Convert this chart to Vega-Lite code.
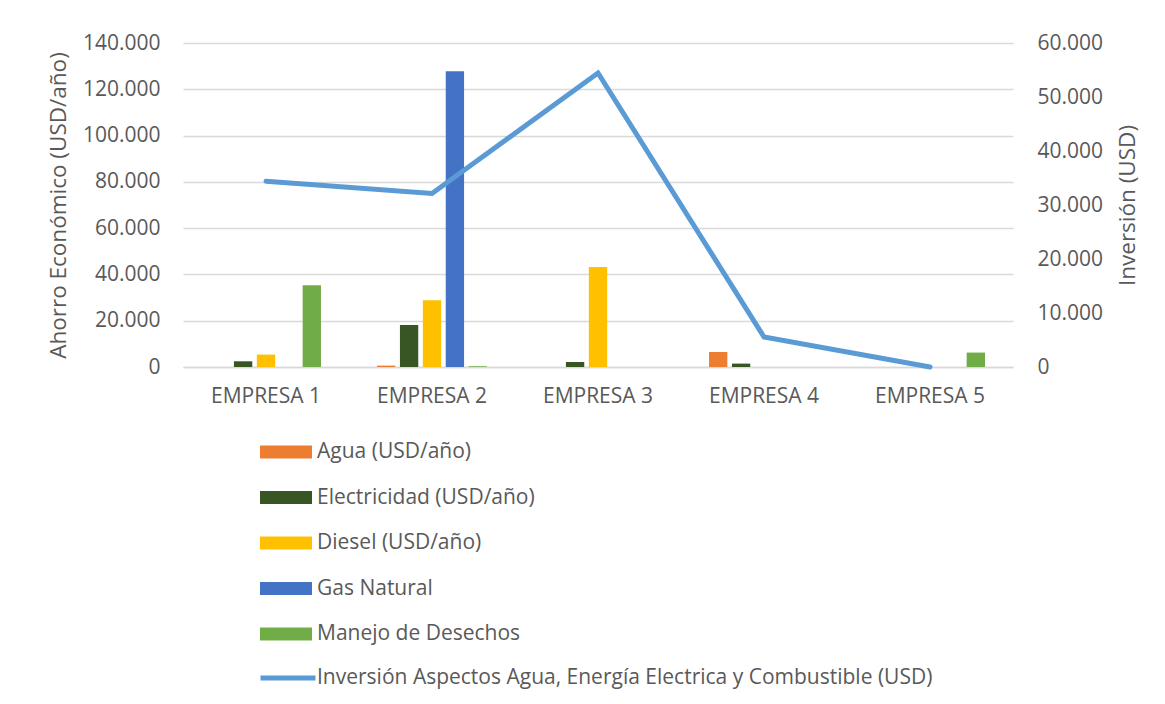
{
  "$schema": "https://vega.github.io/schema/vega-lite/v6.json",
  "width": 830,
  "height": 324,
  "autosize": {"type": "none"},
  "padding": {"left": 183, "top": 43, "right": 152, "bottom": 337},
  "background": "white",
  "config": {
    "locale": {"number": {"decimal": ",", "thousands": ".", "grouping": [3], "currency": ["$", ""]}},
    "font": "Open Sans",
    "view": {"stroke": null},
    "axis": {
      "labelFont": "Open Sans",
      "labelColor": "#595959",
      "labelFontSize": 21,
      "titleFont": "Open Sans",
      "titleColor": "#595959",
      "titleFontSize": 22.5,
      "titleFontWeight": "normal",
      "gridColor": "#d9d9d9",
      "gridWidth": 1.5,
      "domain": false,
      "ticks": false
    },
    "legend": {"padding": 0}
  },
  "datasets": {
    "ahorro": [
      {"empresa": "EMPRESA 1", "serie": "Agua (USD/año)", "valor": 0},
      {"empresa": "EMPRESA 1", "serie": "Electricidad (USD/año)", "valor": 2470},
      {"empresa": "EMPRESA 1", "serie": "Diesel (USD/año)", "valor": 5360},
      {"empresa": "EMPRESA 1", "serie": "Gas Natural", "valor": 0},
      {"empresa": "EMPRESA 1", "serie": "Manejo de Desechos", "valor": 35300},
      {"empresa": "EMPRESA 2", "serie": "Agua (USD/año)", "valor": 600},
      {"empresa": "EMPRESA 2", "serie": "Electricidad (USD/año)", "valor": 18150},
      {"empresa": "EMPRESA 2", "serie": "Diesel (USD/año)", "valor": 28850},
      {"empresa": "EMPRESA 2", "serie": "Gas Natural", "valor": 127800},
      {"empresa": "EMPRESA 2", "serie": "Manejo de Desechos", "valor": 300},
      {"empresa": "EMPRESA 3", "serie": "Agua (USD/año)", "valor": 0},
      {"empresa": "EMPRESA 3", "serie": "Electricidad (USD/año)", "valor": 2160},
      {"empresa": "EMPRESA 3", "serie": "Diesel (USD/año)", "valor": 43250},
      {"empresa": "EMPRESA 3", "serie": "Gas Natural", "valor": 0},
      {"empresa": "EMPRESA 3", "serie": "Manejo de Desechos", "valor": 0},
      {"empresa": "EMPRESA 4", "serie": "Agua (USD/año)", "valor": 6490},
      {"empresa": "EMPRESA 4", "serie": "Electricidad (USD/año)", "valor": 1470},
      {"empresa": "EMPRESA 4", "serie": "Diesel (USD/año)", "valor": 0},
      {"empresa": "EMPRESA 4", "serie": "Gas Natural", "valor": 0},
      {"empresa": "EMPRESA 4", "serie": "Manejo de Desechos", "valor": 0},
      {"empresa": "EMPRESA 5", "serie": "Agua (USD/año)", "valor": 0},
      {"empresa": "EMPRESA 5", "serie": "Electricidad (USD/año)", "valor": 0},
      {"empresa": "EMPRESA 5", "serie": "Diesel (USD/año)", "valor": 0},
      {"empresa": "EMPRESA 5", "serie": "Gas Natural", "valor": 0},
      {"empresa": "EMPRESA 5", "serie": "Manejo de Desechos", "valor": 6230}
    ],
    "inversion": [
      {"empresa": "EMPRESA 1", "inversion": 34420},
      {"empresa": "EMPRESA 2", "inversion": 32140},
      {"empresa": "EMPRESA 3", "inversion": 54440},
      {"empresa": "EMPRESA 4", "inversion": 5560},
      {"empresa": "EMPRESA 5", "inversion": 0}
    ]
  },
  "layer": [
    {
      "data": {"name": "ahorro"},
      "mark": {"type": "bar"},
      "encoding": {
        "x": {
          "field": "empresa",
          "type": "nominal",
          "scale": {"paddingInner": 0.31, "paddingOuter": 0.155},
          "axis": {"title": null, "labelAngle": 0, "labelPadding": 18, "domain": true, "domainColor": "#d9d9d9", "domainWidth": 1.5, "grid": false}
        },
        "xOffset": {
          "field": "serie",
          "type": "nominal",
          "scale": {"domain": ["Agua (USD/año)", "Electricidad (USD/año)", "Diesel (USD/año)", "Gas Natural", "Manejo de Desechos"], "paddingInner": 0.2, "paddingOuter": 0.1}
        },
        "y": {
          "field": "valor",
          "type": "quantitative",
          "scale": {"domain": [0, 140000]},
          "axis": {
            "title": "Ahorro Económico (USD/año)",
            "format": ",d",
            "values": [0, 20000, 40000, 60000, 80000, 100000, 120000, 140000],
            "labelPadding": 23,
            "titlePadding": 12,
            "grid": true
          }
        },
        "color": {
          "field": "serie",
          "type": "nominal",
          "scale": {
            "domain": ["Agua (USD/año)", "Electricidad (USD/año)", "Diesel (USD/año)", "Gas Natural", "Manejo de Desechos"],
            "range": ["#ED7D31", "#375623", "#FFC000", "#4472C4", "#70AD47"]
          },
          "legend": {
            "title": null,
            "orient": "none",
            "legendX": 90,
            "legendY": 396,
            "direction": "vertical",
            "symbolType": "M-2,-0.5H2V0.5H-2Z",
            "symbolSize": 676,
            "symbolStrokeWidth": 0,
            "symbolOpacity": 1,
            "labelOffset": 18,
            "labelFont": "Open Sans",
            "labelFontSize": 21,
            "labelColor": "#595959",
            "labelLimit": 800,
            "rowPadding": 22.5
          }
        }
      }
    },
    {
      "data": {"name": "inversion"},
      "mark": {"type": "line", "strokeWidth": 5, "strokeCap": "round", "strokeJoin": "miter"},
      "encoding": {
        "x": {"field": "empresa", "type": "nominal"},
        "y": {
          "field": "inversion",
          "type": "quantitative",
          "scale": {"domain": [0, 60000]},
          "axis": {
            "orient": "right",
            "title": "Inversión (USD)",
            "titleAngle": 270,
            "titleBaseline": "top",
            "format": ",d",
            "values": [0, 10000, 20000, 30000, 40000, 50000, 60000],
            "labelPadding": 24,
            "titlePadding": 14,
            "grid": false
          }
        },
        "stroke": {
          "datum": "Inversión Aspectos Agua, Energía Electrica y Combustible (USD)",
          "type": "nominal",
          "scale": {"range": ["#5B9BD5"]},
          "legend": {
            "title": null,
            "orient": "none",
            "legendX": 75,
            "legendY": 605,
            "symbolType": "M-1,0H1",
            "symbolSize": 3025,
            "symbolStrokeWidth": 5,
            "labelOffset": -1,
            "labelFont": "Open Sans",
            "labelFontSize": 21,
            "labelColor": "#595959",
            "labelLimit": 800
          }
        }
      }
    }
  ],
  "resolve": {"scale": {"y": "independent"}}
}
